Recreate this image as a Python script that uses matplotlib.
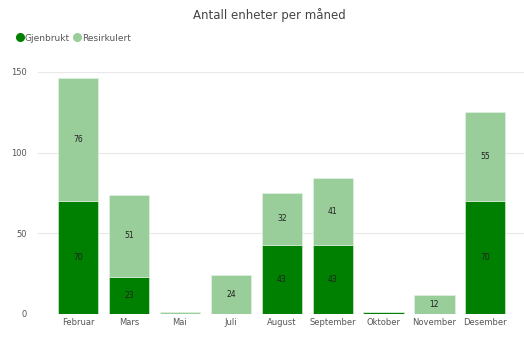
import matplotlib.pyplot as plt
from matplotlib.lines import Line2D
import numpy as np

months = ["Februar", "Mars", "Mai", "Juli", "August", "September", "Oktober", "November", "Desember"]
gjenbrukt = [70, 23, 0, 0, 43, 43, 1, 0, 70]
resirkulert = [76, 51, 1, 24, 32, 41, 0, 12, 55]

dark = "#008000"
light = "#99CD99"

fig = plt.figure(figsize=(5.24, 3.39), dpi=100)
ax = fig.add_axes([0.0725, 0.074, 0.9275, 0.714])

x = np.arange(len(months))
w = 0.79
ax.bar(x, gjenbrukt, w, color=dark, edgecolor="#e6f2e6", linewidth=0.4, zorder=3)
ax.bar(x, resirkulert, w, bottom=gjenbrukt, color=light, edgecolor="#e6f2e6", linewidth=0.4, zorder=3)

# value labels inside segments large enough
for i in range(len(months)):
    if gjenbrukt[i] >= 10:
        ax.text(x[i], gjenbrukt[i] / 2, str(gjenbrukt[i]), ha="center", va="center",
                fontsize=5.5, color="#222222", zorder=4)
    if resirkulert[i] >= 10:
        ax.text(x[i], gjenbrukt[i] + resirkulert[i] / 2, str(resirkulert[i]), ha="center",
                va="center", fontsize=5.5, color="#222222", zorder=4)

ax.set_xlim(-0.79, 8.76)
ax.set_ylim(0, 150)
ax.set_yticks([0, 50, 100, 150])
ax.set_xticks(x)
ax.set_xticklabels(months)
ax.grid(axis="y", color="#e8e8e8", linewidth=0.8, zorder=0)
for s in ax.spines.values():
    s.set_visible(False)
ax.tick_params(axis="both", length=0, labelsize=6, colors="#555555")
ax.tick_params(axis="y", pad=8)
ax.tick_params(axis="x", pad=3)

fig.text(0.515, 0.955, "Antall enheter per måned", ha="center", va="center", fontsize=8.5, color="#444444")
handles = [Line2D([], [], marker="o", linestyle="none", markersize=5.5, color=c) for c in (dark, light)]
fig.legend(handles, ["Gjenbrukt", "Resirkulert"], loc="upper left", bbox_to_anchor=(0.018, 0.925),
           ncol=2, frameon=False, fontsize=6.5, handlelength=0.6, handletextpad=0.2,
           columnspacing=0.5, labelcolor="#555555")

fig.savefig("out.png", dpi=100)
